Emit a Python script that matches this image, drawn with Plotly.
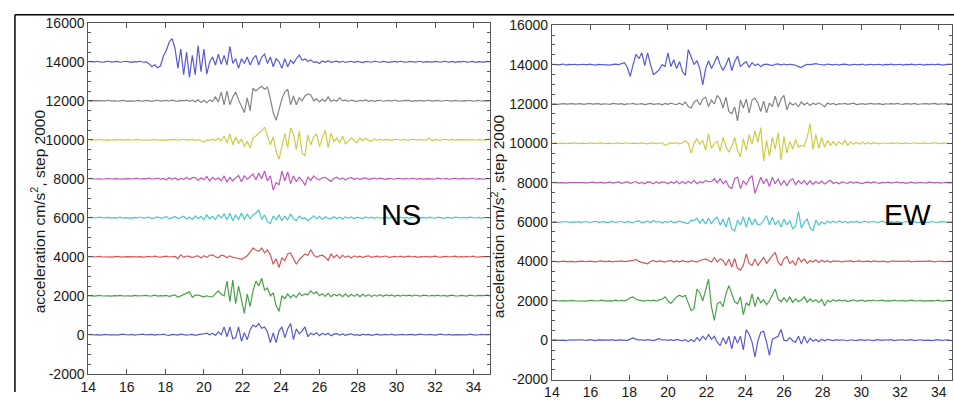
import numpy as np
import plotly.graph_objects as go

# ---------------- data ----------------
t_start = 14.0
t_step = 0.15
offsets = [14000, 12000, 10000, 8000, 6000, 4000, 2000, 0]
colors = ['#5a5ad0', '#838383', '#cccc48', '#bc58bc', '#4ac6c6', '#d25858', '#4aa04a', '#5a5ad0']
y_ticks = [-2000, 0, 2000, 4000, 6000, 8000, 10000, 12000, 14000, 16000]
y_tick_labels = ['-2000', '0', '2000', '4000', '6000', '8000', '10000', '12000', '14000', '16000']
x_ticks = [14, 16, 18, 20, 22, 24, 26, 28, 30, 32, 34]

# NS component, deviation from each offset (cm/s^2), sampled every 0.15 s from 14 s
ns_1 = [0, 20, -10, 30, 0, -20, 10, 30, -10, 0,
        20, -20, 10, 30, 0, -30, 10, 0, 30, -20,
        0, -100, -250, -150, -300, -200, 300, 580, 1020, 1190,
        700, -330, 660, -660, 500, -800, 330, -660, 830, -500,
        660, -630, 0, 250, -160, 400, -130, 330, -160, 800,
        -80, 160, -330, 160, -80, 250, -160, 160, 330, -160,
        250, 400, -80, 250, -250, 160, 0, -330, 160, -250,
        80, -80, 160, 350, 80, 150, 30, 100, -30, 0,
        -80, 50, -20, 60, -30, 20, 40, -20, 30, -30,
        10, 30, -20, 20, 0, -40, 20, 10, -20, 30,
        0, -20, 20, 10, -30, 0, 20, -10, 30, 0,
        -20, 10, 20, -10, 0, 30, -20, 10, 0, -10,
        20, 0, -20, 30, 0, -10, 20, -20, 10, 0,
        30, -10, 0, 20, -20, 10, 0, -10, 20, 0,
        10]
ns_2 = [0, -20, 10, 0, 20, -10, 0, 30, -10, 10,
        -20, 0, 20, -10, 10, 0, -20, 20, 0, -10,
        20, 0, -30, 10, 30, -10, 0, 20, -20, 40,
        0, -30, 20, 0, 40, -20, 30, -50, 50, -80,
        30, -100, 50, -30, 200, -50, 450, -200, 500, -200,
        200, 450, 50, -300, -600, 150, -500, 650, 500, 650,
        750, 600, 700, 100, -600, -1000, -500, 100, 450, 600,
        -200, 250, -200, 150, 0, 250, 350, 300, 0, 100,
        -50, 80, -30, 200, -30, 50, -20, 150, 0, 50,
        -30, 40, 0, -40, 30, 0, 50, -20, 20, -30,
        10, 30, -20, 0, 20, -10, 30, 0, -20, 10,
        0, 20, -30, 10, 0, 20, -10, 0, 30, -10,
        0, 20, -20, 10, 30, 0, -10, 20, 0, -20,
        10, 0, 30, -10, 0, 20, -20, 10, 0, 20,
        0]
ns_3 = [0, 10, -20, 0, 20, -10, 10, 0, -20, 10,
        0, 20, -10, 0, 10, -20, 0, 20, 0, -10,
        10, -20, 0, 20, -10, 10, 0, -30, 10, 0,
        20, -20, 0, 30, -10, 0, 20, -30, 10, -50,
        -130, 0, -30, 50, -30, 80, -60, 200, -150, 300,
        -250, 150, -200, 50, -350, -80, -400, 100, 200, 350,
        450, 650, 200, -250, 150, -600, -1000, -400, 330, -400,
        600, 300, -500, 450, -700, -800, 250, -250, 150, 300,
        -350, 100, 500, -400, 350, -100, 100, -150, 200, -200,
        -80, 100, -50, -150, 80, -50, 80, -30, -80, 50,
        -20, 40, -30, 20, 0, -30, 30, 0, -20, 20,
        0, -20, 30, 0, -10, 20, -20, 0, 80, -60,
        20, 0, -20, 30, 0, -10, 20, -20, 10, 0,
        20, -10, 0, 20, -20, 10, 0, -10, 20, 0,
        10]
ns_4 = [0, 20, -10, 10, 0, -20, 10, 20, -10, 0,
        10, -20, 0, 20, 10, -10, 0, 20, -20, 10,
        0, 30, -20, 10, 40, -30, 20, -50, 60, -20,
        50, -60, 30, -40, 80, -30, 60, 60, -80, 50,
        -50, 120, -110, 80, -50, 50, -100, 150, -170, 80,
        -100, 50, 170, -150, 150, -20, 100, 250, -50, 300,
        0, 400, -100, 150, -580, -200, -300, 400, -100, 350,
        -250, 150, -150, 80, -80, -330, 100, -80, 150, 0,
        -50, 50, 80, -50, -130, 30, 80, -30, 50, -60,
        30, 60, -20, 40, -40, 20, 50, -30, 0, 40,
        -20, 30, 0, -30, 20, 10, -20, 30, 0, -10,
        20, -20, 30, 0, -10, 20, -30, 10, 20, 0,
        -20, 30, 0, -10, 20, -20, 10, 30, -10, 0,
        20, -10, 0, 30, -20, 10, 0, -20, 20, 0,
        10]
ns_5 = [0, 20, -10, 10, 30, -10, 0, 20, -20, 10,
        0, 30, -20, 10, 0, -30, 20, 0, 40, -20,
        10, 30, -40, 20, 50, -30, 10, 60, -50, 30,
        70, -40, 20, 80, -60, 40, -80, 100, -50, 80,
        -100, 150, -50, 80, -80, 150, 0, 200, -100, 230,
        -150, 150, -100, 250, -80, 200, -50, 150, 250, 400,
        -80, 150, -200, -300, 100, -100, 150, -150, 80, -100,
        200, -50, -150, 80, -50, 0, -150, 0, 100, -50,
        80, -80, 50, -30, -50, 60, -40, 30, -60, 50,
        -20, 40, -50, 30, 0, -40, 50, -20, 30, -30,
        40, -20, 0, 30, -30, 20, 0, -20, 40, -10,
        20, -30, 10, 30, -20, 0, 20, -20, 30, 0,
        -20, 30, 0, -30, 20, 10, -20, 30, 0, -10,
        20, -20, 30, 0, -10, 20, -20, 10, 0, 20,
        0]
ns_6 = [0, 20, -10, 0, 20, -10, 10, 0, -20, 10,
        20, 0, -20, 10, 0, 20, -10, 0, 10, -20,
        0, 20, -10, 30, 0, -20, 10, 30, -10, 0,
        20, -100, 100, -30, 40, 20, -40, 30, 50, -60,
        60, -30, 80, 100, 0, -50, 80, 50, -50, 50,
        -30, -50, -80, -130, -50, 50, 250, 450, 350, 280,
        450, 200, 350, 100, -380, -100, -550, -50, -200, 150,
        200, -100, -380, -150, 0, 150, 80, 360, 100, -30,
        50, 80, -20, -180, 150, -50, 100, -80, 80, -30,
        40, -60, 50, -20, 30, -40, 20, 50, -30, 0,
        30, -20, 10, 40, -30, 0, 20, -10, 30, -20,
        0, 30, -10, 20, -30, 10, 0, 20, -20, 10,
        30, 0, -20, 10, 20, -10, 0, 30, -20, 10,
        0, 20, -10, 30, 0, -20, 10, 0, 20, -10,
        10]
ns_7 = [0, 10, -20, 0, 20, -10, 10, 0, -20, 10,
        0, 20, -10, 10, 0, -20, 20, 0, -10, 10,
        20, -10, 0, 30, -20, 10, 0, 20, -30, 0,
        50, -80, 0, 80, 150, 200, -80, 30, 30, -30,
        -50, 0, -50, -50, 100, 250, 80, 0, 750, -300,
        800, -400, 500, -200, -900, 100, -550, 250, 750, 500,
        900, 300, 400, 0, 150, -500, -800, 0, -150, 100,
        -100, 50, -80, 150, 0, 100, 50, 250, 100, 200,
        0, 100, -30, 120, -50, 80, 0, 80, -50, 100,
        -50, 80, -30, 80, -50, 80, -30, 60, -40, 50,
        -20, 60, -30, 40, 0, 50, -30, 30, -20, 40,
        0, 30, -20, 40, 0, -20, 30, 0, -10, 20,
        0, 30, -10, 20, -20, 10, 30, 0, -10, 20,
        0, -20, 30, 10, -10, 20, 0, 10, 30, 0,
        20]
ns_8 = [0, 20, -10, 10, -20, 0, 20, -10, 10, 0,
        -20, 10, 30, 0, -10, 20, -20, 0, 10, 30,
        -10, 0, 20, -20, 10, 0, 30, -10, -30, 20,
        0, -20, 30, 10, -20, 0, 20, -30, 10, 30,
        50, 80, 0, 80, -30, 150, 0, 400, -100, 400,
        -200, -150, 400, -330, 100, -250, 250, 500, 400, 580,
        330, 400, 150, -400, 100, -400, 200, 400, -150, 300,
        580, -250, 300, 50, 200, 400, -100, 80, 0, 100,
        -50, 80, 0, 80, -50, 30, 60, -20, 40, -30,
        20, 50, -20, 10, -40, 30, 0, 20, -30, 10,
        30, -20, 0, 20, -10, 30, -20, 0, 10, 20,
        -10, 0, 20, -20, 10, 30, 0, -10, 20, 0,
        -20, 10, 30, 0, -10, 20, -20, 10, 0, 20,
        0, -10, 30, 10, -20, 0, 20, 0, -10, 10,
        0]

# EW component
ew_1 = [0, 20, -10, 0, 30, -20, 10, 0, 20, -10,
        0, 20, -10, 30, 0, -20, 10, 0, 20, 0,
        -20, 10, 30, 0, 50, 100, -130, -600, 0, 530,
        300, 600, -50, 600, 0, -500, -400, -250, 0, -100,
        600, -100, 250, -200, 150, -350, -550, 770, 400, 0,
        200, -200, -1030, -200, 200, -200, 100, 440, 0, -300,
        0, 350, -300, 150, 440, -100, 50, 150, -130, 100,
        -50, 30, -100, 0, 30, 0, -50, 20, 40, -20,
        30, -10, 20, 0, -30, -100, -150, -50, 20, 0,
        30, 50, 20, 0, -20, 30, 0, -10, 20, -20,
        10, 30, 0, -20, 20, 0, -10, 30, -20, 0,
        20, -10, 0, 20, -20, 10, 0, 30, -10, 0,
        20, -20, 10, 0, 30, -10, 0, 20, -20, 10,
        0, 20, -10, 30, 0, -20, 10, 0, 20, 0,
        10]
ew_2 = [0, 10, -20, 0, 20, -10, 0, 20, -10, 10,
        20, -20, 0, 30, -10, 0, 20, -20, 10, 0,
        -20, 30, 0, -10, 20, -30, 10, 0, 30, -20,
        0, 20, -30, 10, 30, -20, 0, 20, -40, 30,
        -20, 40, 0, -30, 50, -50, 100, -130, -200, 100,
        200, -50, 250, 350, -130, 200, 0, 440, 250, -200,
        350, -380, -500, -150, -860, 200, -200, 250, -450, 200,
        300, 50, -380, 150, -450, 50, -130, 400, -150, 250,
        440, -300, 80, -50, 30, -130, 100, -50, 60, -80,
        40, -30, 60, -20, -150, 50, -20, 30, -40, 20,
        0, 30, -20, 10, 40, -30, 0, 20, -20, 10,
        30, -10, 0, 20, -30, 10, 0, 20, -10, 30,
        0, -20, 20, 0, -10, 30, -20, 0, 10, 20,
        -10, 0, 30, -20, 10, 0, 20, -10, 0, 30,
        0]
ew_3 = [0, 20, -10, 0, 10, -20, 10, 0, 20, -10,
        0, 10, -20, 20, 0, -10, 10, 20, -10, 0,
        10, -20, 0, 20, -10, 0, 30, -20, 10, 0,
        -20, 20, 0, -30, 10, 20, -10, 0, 30, -100,
        -50, 20, 0, 30, -20, 30, 130, 0, -500, 0,
        230, -50, 150, -350, 500, -250, 0, 100, -400, 300,
        -150, -450, -150, 300, -350, -680, 230, -350, 450, -50,
        650, 50, 800, -900, 150, -650, 300, -300, 550, -850,
        350, -500, 100, -300, 200, -200, -100, -150, 300, 1000,
        -300, 450, -250, 300, -200, 150, -100, 100, -100, 80,
        -50, 150, -100, 80, -50, 50, -30, 60, -40, 30,
        -20, 40, 0, -30, 30, 0, -20, 20, 0, 30,
        -10, 0, 20, -20, 10, 30, 0, -10, 20, 0,
        -20, 10, 30, 0, -10, 20, 0, -20, 10, 0,
        20]
ew_4 = [0, 20, -10, 10, 0, -20, 20, 0, -10, 10,
        0, 20, -20, 10, 30, -10, 0, 20, -20, 10,
        30, -20, 0, 40, -30, 20, 50, -30, 10, 60,
        -40, 20, -50, 40, 30, -60, 50, -30, 40, 20,
        -50, 50, -30, 80, -50, 60, -50, 80, -30, 120,
        -50, 50, 0, 120, 50, 50, 200, 0, 200, -50,
        100, -200, -300, 200, 280, -300, 100, -100, 200, 360,
        -540, -150, 280, -50, 200, -200, 280, -50, 200, -130,
        100, -150, 100, 200, -100, 100, -50, 100, -100, 100,
        -80, 60, -50, 80, -60, 40, 120, -40, 30, -50,
        40, 0, -30, 50, -20, 30, 0, -40, 20, 30,
        -20, 40, 0, -30, 20, 0, 30, -20, 10, 40,
        -10, 20, -30, 0, 30, -20, 10, 20, 0, -20,
        30, 0, -10, 20, -20, 0, 20, -10, 10, 0,
        20]
ew_5 = [0, 20, -10, 10, 0, 30, -20, 10, 0, 20,
        -10, 0, 30, -20, 10, 40, -10, 0, 20, -30,
        10, 30, -20, 0, 40, -30, 20, 0, -30, 40,
        60, -40, 20, 50, -30, 80, 0, 40, -50, 30,
        -20, 60, -40, 20, 50, 0, -50, -80, 100, 80,
        200, -50, 150, -100, 200, -100, 150, 250, -150, 150,
        -250, 250, -350, -450, 100, -150, 280, -250, 250, -150,
        150, -150, -100, 80, 330, -150, 250, -150, 80, -250,
        150, -150, 80, -350, -200, 550, -300, 0, 150, -300,
        -450, 100, -150, 0, -100, 50, -50, 50, -30, 60,
        -20, 40, -40, 20, 0, 30, -30, 20, 40, -10,
        0, 30, -20, 10, 50, -30, 0, 20, -20, 30,
        0, -20, 30, 10, -10, 20, -30, 0, 20, 0,
        -10, 30, 0, -20, 20, 10, -10, 0, 20, -10,
        0]
ew_6 = [0, 10, -20, 0, 20, -10, 10, 0, -20, 10,
        20, 0, -10, 20, 0, -20, 10, 30, -10, 0,
        20, -20, 10, 0, 30, -10, 0, 20, 50, 100,
        0, -50, -100, -120, 0, 50, -20, 30, 0, -30,
        20, 50, -30, 30, -20, 40, 0, -30, 40, -10,
        -30, 50, 80, 130, 50, -30, 200, -30, 130, 50,
        -200, 130, -280, 150, -350, -440, -200, 380, -100, -200,
        130, -200, 0, 200, -100, 130, 300, 460, -50, -200,
        130, 250, -100, 30, -200, 200, -30, 130, -100, 50,
        -30, 80, -50, 60, -20, 40, -40, 30, 0, 20,
        -30, 20, 0, 40, -20, 10, 30, -10, 0, 20,
        -20, 30, 0, -10, 20, 0, -30, 20, 10, 0,
        20, -10, 0, 30, -20, 10, 0, 20, -10, 0,
        30, 0, -20, 10, 20, -10, 0, 20, 0, -10,
        10]
ew_7 = [0, 20, -10, 0, 10, -20, 10, 20, 0, -10,
        10, 0, -20, 20, 0, 10, -10, 30, 0, -20,
        10, 0, 30, -10, 20, 0, 50, 150, 200, 80,
        30, 0, -20, 40, 0, 30, -20, 50, 80, 200,
        0, -130, 30, 200, 280, 200, 280, -100, -500, -400,
        600, 400, 0, 550, 1100, -300, -1000, -150, -50, -300,
        350, 770, 300, -50, -150, 200, -700, -100, -250, 350,
        -300, 200, -100, 50, -200, 0, 300, 600, 100, -50,
        150, -50, 200, -80, 100, -50, 50, 200, -80, 100,
        -50, 50, -80, 80, -250, 30, -50, 60, -30, 40,
        0, 30, -40, 20, 50, -20, 0, 30, -30, 20,
        0, 40, -10, 0, 30, -20, 10, 0, 30, -10,
        0, 20, -20, 10, 30, 0, -10, 20, -20, 0,
        20, 10, -10, 30, 0, -20, 10, 0, 20, 0,
        10]
ew_8 = [0, 20, -10, 10, 0, -20, 20, 0, 10, -10,
        20, 0, -10, 30, 0, -20, 10, 0, 20, -10,
        0, 30, -20, 10, 0, 20, -10, 50, 110, 50,
        0, 20, -10, 30, 0, -20, 30, 80, 0, 20,
        -10, 30, -20, 40, 0, -30, 30, -80, 30, -80,
        130, -30, 200, 30, 280, 50, 200, -100, -280, 130,
        -200, 200, -440, 200, -150, 200, -500, 540, 300, -100,
        -850, -50, 400, 450, -100, -770, 50, 130, 200, 540,
        0, -30, 130, -30, -100, 200, -200, 200, -150, 100,
        -50, 30, -80, 50, -30, 40, 0, -20, 30, -10,
        20, 0, -30, 20, 10, -20, 30, 0, -10, 20,
        0, -20, 30, 0, -10, 20, 0, 30, -20, 0,
        10, 20, -10, 0, 30, -20, 0, 20, -10, 10,
        0, -20, 20, 30, 0, -10, 20, 0, -20, 10,
        0]

ns_traces = [ns_1, ns_2, ns_3, ns_4, ns_5, ns_6, ns_7, ns_8]
ew_traces = [ew_1, ew_2, ew_3, ew_4, ew_5, ew_6, ew_7, ew_8]

# ---------------- figure ----------------
W, H = 954, 400
fig = go.Figure()

for panel, traces in (("", ns_traces), ("2", ew_traces)):
    for vals, off, col in zip(traces, offsets, colors):
        t = t_start + t_step * np.arange(len(vals))
        fig.add_trace(go.Scatter(
            x=t, y=np.array(vals) + off, mode="lines",
            line=dict(color=col, width=1.2),
            xaxis="x" + panel, yaxis="y" + panel,
            showlegend=False, hoverinfo="skip"))

tick_font = dict(family="Liberation Sans, Arial, sans-serif", size=14, color="#1a1a1a")
axis_common = dict(showline=True, linecolor="#555", linewidth=1, mirror="ticks",
                   ticks="inside", tickcolor="#555", ticklen=5, showgrid=False,
                   zeroline=False, tickfont=tick_font)

def px_x(p):
    return p / W

def px_y(p):
    return 1 - p / H

fig.update_layout(
    width=W, height=H, margin=dict(l=0, r=0, t=0, b=0),
    paper_bgcolor="white", plot_bgcolor="white", showlegend=False,
    xaxis=dict(domain=[px_x(81), px_x(486)], range=[14, 34.85], anchor="y",
               tickvals=x_ticks, **axis_common),
    yaxis=dict(domain=[px_y(381), px_y(15.5)], range=[-2000, 16000], anchor="x",
               tickvals=y_ticks, ticktext=y_tick_labels,
               minor=dict(ticks="inside", ticklen=3, dtick=500, tickcolor="#555"),
               **axis_common),
    xaxis2=dict(domain=[px_x(548.5), px_x(952)], range=[14, 34.69], anchor="y2",
                tickvals=x_ticks, **axis_common),
    yaxis2=dict(domain=[px_y(387), px_y(18)], range=[-2000, 16000], anchor="x2",
                tickvals=y_ticks, ticktext=y_tick_labels,
                minor=dict(ticks="inside", ticklen=3, dtick=500, tickcolor="#555"),
                **axis_common),
)

title_text = "acceleration cm/s<sup>2</sup>, step 2000"
label_font = dict(family="Liberation Sans, Arial, sans-serif", size=15.5, color="#1a1a1a")
fig.add_annotation(text=title_text, textangle=-90, x=px_x(30), y=px_y(212),
                   xref="paper", yref="paper", showarrow=False, font=label_font,
                   xanchor="center", yanchor="middle")
fig.add_annotation(text=title_text, textangle=-90, x=px_x(494), y=px_y(217),
                   xref="paper", yref="paper", showarrow=False, font=label_font,
                   xanchor="center", yanchor="middle")

big_font = dict(family="Liberation Sans, Arial, sans-serif", size=29, color="black")
fig.add_annotation(text="NS", x=px_x(396), y=px_y(216), xref="paper", yref="paper",
                   showarrow=False, font=big_font, xanchor="center", yanchor="middle")
fig.add_annotation(text="EW", x=px_x(907), y=px_y(216), xref="paper", yref="paper",
                   showarrow=False, font=big_font, xanchor="center", yanchor="middle")

# outer frame of the figure image
fig.add_shape(type="line", xref="paper", yref="paper", x0=px_x(7), x1=1.0,
              y0=px_y(7), y1=px_y(7), line=dict(color="black", width=1.5))
fig.add_shape(type="line", xref="paper", yref="paper", x0=px_x(7), x1=px_x(7),
              y0=0, y1=px_y(7), line=dict(color="black", width=1.5))

fig.write_html("out.html")
